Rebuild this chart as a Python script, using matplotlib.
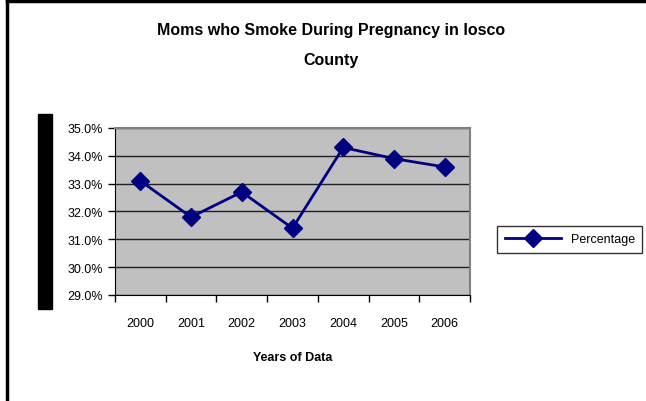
import matplotlib.pyplot as plt
from matplotlib.lines import Line2D
from matplotlib.patches import Rectangle

years = ["2000", "2001", "2002", "2003", "2004", "2005", "2006"]
percentage = [33.1, 31.8, 32.7, 31.4, 34.3, 33.9, 33.6]
y_ticks = [29, 30, 31, 32, 33, 34, 35]

plt.rcParams['font.family'] = ['Liberation Sans', 'DejaVu Sans']

fig = plt.figure(figsize=(6.46, 4.02), dpi=100)
W, H = 646, 402

# outer frame (top and left edges only are visible)
fig.add_artist(Line2D([7 / W, 1], [1 - 2 / H, 1 - 2 / H], color='black', lw=2.5))
fig.add_artist(Line2D([7 / W, 7 / W], [0, 1 - 2 / H], color='black', lw=2.5))

# black bar on the left
fig.add_artist(Rectangle((38 / W, 1 - 310 / H), 14 / W, 195 / H,
                         color='black', transform=fig.transFigure))

ax = fig.add_axes([115 / W, 1 - 296 / H, 355 / W, 167 / H])
ax.set_facecolor('#C0C0C0')

x = [i + 0.5 for i in range(len(years))]
line, = ax.plot(x, percentage, color='#000080', lw=2, marker='D',
                markersize=9, label='Percentage', zorder=3)

ax.set_xlim(0, len(years))
ax.set_ylim(29, 35)
ax.set_yticks(y_ticks)
ax.set_yticklabels([f"{v:.1f}%" for v in y_ticks], fontsize=9)
ax.set_xticks(range(len(years) + 1))
ax.set_xticklabels([])
ax.set_xticks(x, minor=True)
ax.set_xticklabels(years, minor=True, fontsize=9)
ax.tick_params(axis='x', which='minor', length=0, pad=16)
ax.tick_params(axis='both', which='major', direction='out', length=5, width=1)
ax.grid(axis='y', color='#202020', lw=1)
ax.set_axisbelow(True)

for s in ['top', 'right']:
    ax.spines[s].set_color('#808080')
    ax.spines[s].set_linewidth(1.5)
for s in ['left', 'bottom']:
    ax.spines[s].set_color('black')

ax.set_xlabel("Years of Data", fontsize=9, fontweight='bold', labelpad=16)

fig.text(331 / W, 1 - 30 / H, "Moms who Smoke During Pregnancy in Iosco",
         ha='center', va='center', fontsize=11.5, fontweight='bold')
fig.text(331 / W, 1 - 60 / H, "County",
         ha='center', va='center', fontsize=11.5, fontweight='bold')

leg = fig.legend(handles=[line], loc='center left',
                 bbox_to_anchor=(497 / W, 1 - 240 / H), fontsize=9,
                 frameon=True, fancybox=False, edgecolor='black',
                 handlelength=4.5, borderpad=0.6, borderaxespad=0)
leg.get_frame().set_linewidth(1)

fig.savefig("out.png", dpi=100)
